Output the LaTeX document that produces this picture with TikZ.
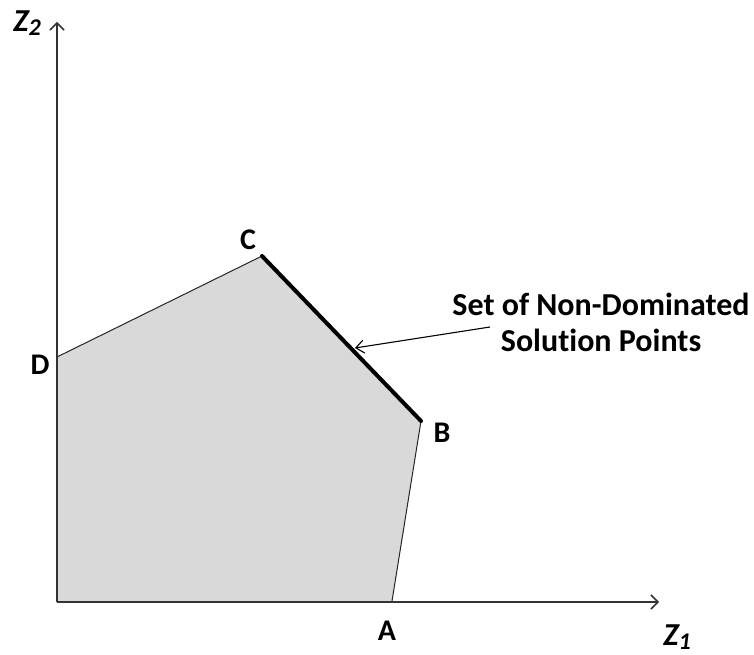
\documentclass[tikz,border=0pt]{standalone}
\usepackage{fontspec}
\setmainfont[Ligatures=CommonOff]{Carlito}
\usetikzlibrary{arrows.meta}
\begin{document}
\begin{tikzpicture}[x=1pt,y=-1pt,
  lbl/.style={font=\fontsize{30}{34}\selectfont\bfseries, inner sep=0pt},
  zlbl/.style={font=\fontsize{32}{34}\selectfont\bfseries\itshape, inner sep=0pt},
  axis/.style={line width=1.3pt, draw=black!80, -{Straight Barb[length=7pt,width=14pt,line width=1.5pt]}},
  edge/.style={line width=1pt, draw=black!85},
  front/.style={line width=4pt, draw=black, line cap=round}]
\useasboundingbox (0,0) rectangle (754,655);
\coordinate (O) at (57,602);
\coordinate (A) at (392,601);
\coordinate (B) at (421,421);
\coordinate (C) at (262,256);
\coordinate (D) at (57,357);
\coordinate (Ytop) at (57,22);
\coordinate (Xend) at (659,602);
\fill[gray!30] (O) -- (A) -- (B) -- (C) -- (D) -- cycle;
\draw[edge] (A) -- (B);
\draw[edge] (C) -- (D);
\draw[front] (C) -- (B);
\draw[axis] (O) -- (Ytop);
\draw[axis] (O) -- (Xend);
\node[lbl] (la) at (387,631) {A};
\node[lbl] (lb) at (442,433) {B};
\node[lbl] (lc) at (248,240) {C};
\node[lbl] (ld) at (40,365) {D};
\node[zlbl] (z2) at (27,23) {Z\raisebox{-0.3ex}{\fontsize{24}{26}\selectfont 2}};
\node[zlbl] (z1) at (677,637) {Z\raisebox{-0.3ex}{\fontsize{24}{26}\selectfont 1}};
\node[lbl, align=center, font=\fontsize{32}{36}\selectfont\bfseries] (txt) at (601,322) {Set of Non-Dominated\\Solution Points};
\coordinate (tip) at (355,348);
\draw[line width=1.1pt, -{Straight Barb[length=8pt,width=13pt,line width=1.1pt]}] (490,327) -- (tip);
\end{tikzpicture}
\end{document}
